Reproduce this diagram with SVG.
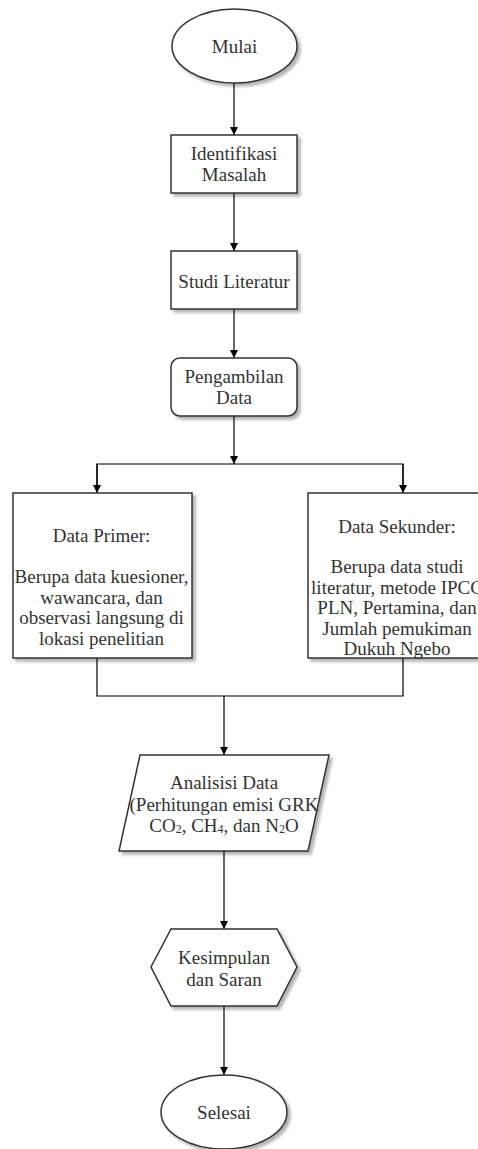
<svg xmlns="http://www.w3.org/2000/svg" width="478" height="1149" viewBox="0 0 478 1149">
<defs>
<filter id="sh" x="-20%" y="-20%" width="150%" height="150%">
<feGaussianBlur in="SourceAlpha" stdDeviation="1.5"/>
<feOffset dx="3" dy="3" result="b"/>
<feComponentTransfer><feFuncA type="linear" slope="0.3"/></feComponentTransfer>
<feMerge><feMergeNode/><feMergeNode in="SourceGraphic"/></feMerge>
</filter>
<marker id="arr" viewBox="0 0 10 10" refX="10" refY="5" markerWidth="8" markerHeight="8" markerUnits="userSpaceOnUse" orient="auto">
<path d="M0,0 L10,5 L0,10 z" fill="#000"/>
</marker>
</defs>
<style>
.s{fill:#fff;stroke:#333;stroke-width:1.5;filter:url(#sh)}
.t{font-family:"Liberation Serif","Times New Roman",serif;font-size:19px;fill:#333;text-anchor:middle}
.c{fill:none;stroke:#000;stroke-width:1.2}
.sub{font-size:12px}
</style>
<rect width="478" height="1149" fill="#fff"/>
<g id="connectors">
<line class="c" x1="234" y1="83" x2="234" y2="135" marker-end="url(#arr)"/>
<line class="c" x1="234" y1="193" x2="234" y2="251" marker-end="url(#arr)"/>
<line class="c" x1="234" y1="309" x2="234" y2="358" marker-end="url(#arr)"/>
<line class="c" x1="234" y1="416" x2="234" y2="464" marker-end="url(#arr)"/>
<polyline class="c" points="97,493 97,464 403,464 403,493"/>
<line class="c" x1="97" y1="464" x2="97" y2="493" marker-end="url(#arr)"/>
<line class="c" x1="403" y1="464" x2="403" y2="493" marker-end="url(#arr)"/>
<polyline class="c" points="97,658 97,696 403,696 403,658"/>
<line class="c" x1="224" y1="696" x2="224" y2="755" marker-end="url(#arr)"/>
<line class="c" x1="224" y1="851" x2="224" y2="929" marker-end="url(#arr)"/>
<line class="c" x1="224" y1="1006" x2="224" y2="1075" marker-end="url(#arr)"/>
</g>
<g id="mulai">
<ellipse class="s" cx="234.5" cy="46" rx="62.5" ry="37"/>
<text class="t" x="234.5" y="53">Mulai</text>
</g>
<g id="identifikasi">
<rect class="s" x="171" y="135" width="126" height="58"/>
<text class="t" x="234" y="160">Identifikasi</text>
<text class="t" x="234" y="181">Masalah</text>
</g>
<g id="studi">
<rect class="s" x="171" y="251" width="126" height="58"/>
<text class="t" x="234" y="288">Studi Literatur</text>
</g>
<g id="pengambilan">
<rect class="s" x="171" y="358" width="126" height="58" rx="9"/>
<text class="t" x="234" y="383">Pengambilan</text>
<text class="t" x="234" y="404">Data</text>
</g>
<g id="primer">
<rect class="s" x="13" y="493" width="179" height="165"/>
<text class="t" x="101.5" y="542">Data Primer:</text>
<text class="t" x="101.5" y="583">Berupa data kuesioner,</text>
<text class="t" x="101.5" y="603.5">wawancara, dan</text>
<text class="t" x="101.5" y="624">observasi langsung di</text>
<text class="t" x="101.5" y="644.5">lokasi penelitian</text>
</g>
<g id="sekunder">
<rect class="s" x="308" y="493" width="178" height="165"/>
<text class="t" x="397" y="533">Data Sekunder:</text>
<text class="t" x="397" y="573">Berupa data studi</text>
<text class="t" x="397" y="593.5">literatur, metode IPCC</text>
<text class="t" x="397" y="614">PLN, Pertamina, dan</text>
<text class="t" x="397" y="634.5">Jumlah pemukiman</text>
<text class="t" x="397" y="655">Dukuh Ngebo</text>
</g>
<g id="analisis">
<polygon class="s" points="140,755 329,755 308,851 119,851"/>
<text class="t" x="224" y="789">Analisisi Data</text>
<text class="t" x="224" y="811">(Perhitungan emisi GRK</text>
<text class="t" x="224" y="832">CO<tspan class="sub" dy="1">2</tspan><tspan dy="-1">, CH</tspan><tspan class="sub" dy="1">4</tspan><tspan dy="-1">, dan N</tspan><tspan class="sub" dy="1">2</tspan><tspan dy="-1">O</tspan></text>
</g>
<g id="kesimpulan">
<polygon class="s" points="171,929 277,929 297,967 277,1006 171,1006 151,967"/>
<text class="t" x="224" y="964">Kesimpulan</text>
<text class="t" x="224" y="986">dan Saran</text>
</g>
<g id="selesai">
<ellipse class="s" cx="224" cy="1112" rx="63" ry="37"/>
<text class="t" x="224" y="1119">Selesai</text>
</g>
</svg>
